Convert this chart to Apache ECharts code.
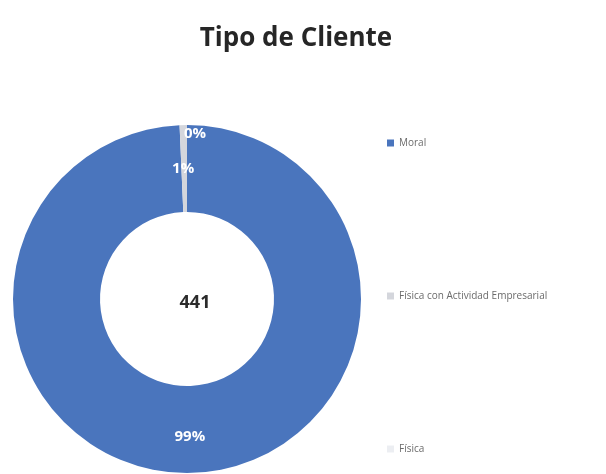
<!DOCTYPE html>
<html>
<head>
<meta charset="utf-8">
<script src="https://cdn.jsdelivr.net/npm/echarts@6/dist/echarts.min.js"></script>
<style>
  html, body { margin: 0; padding: 0; background: #fff; }
  #chart { width: 606px; height: 474px; }
</style>
</head>
<body>
<div id="chart"></div>
<script>
const categories = ['Moral', 'Física con Actividad Empresarial', 'Física']
const values = [438, 3, 0]
const percentLabels = ['99%', '1%', '0%']
const colors = ['#4a75bd', '#d4d6dc', '#eceef2']

// label offsets from the mid-radius position, to match the original placement
const labelOffsets = [[0, 4], [-1, 3], [8, -32]]

const total = values.reduce((a, b) => a + b, 0)

const chart = echarts.init(document.getElementById('chart'))

const option = {
  backgroundColor: '#fff',
  animation: false,
  title: [
    {
      text: 'Tipo de Cliente',
      left: 291,
      top: 21,
      textAlign: 'center',
      textStyle: { fontFamily: 'Open Sans', fontSize: 26, fontWeight: 'bold', color: '#262626' }
    },
    {
      text: String(total),
      left: 190,
      top: 289,
      textAlign: 'center',
      textStyle: { fontFamily: 'Open Sans', fontSize: 18, fontWeight: 'bold', color: '#2b2b2b' }
    }
  ],
  legend: {
    orient: 'vertical',
    left: 382,
    top: 133,
    itemWidth: 7,
    itemHeight: 7,
    itemGap: 143,
    icon: 'rect',
    textStyle: { fontFamily: 'Open Sans', fontSize: 10, color: '#6b6b6b' },
    data: categories
  },
  series: [
    {
      type: 'pie',
      center: [187, 299],
      radius: [87, 174],
      startAngle: 90,
      clockwise: true,
      avoidLabelOverlap: false,
      label: {
        show: true,
        position: 'inside',
        fontFamily: 'Open Sans',
        fontSize: 15,
        fontWeight: 'bold',
        color: '#fff'
      },
      labelLine: { show: false },
      emphasis: { disabled: true },
      itemStyle: { borderWidth: 0 },
      data: categories.map((name, i) => ({
        name,
        value: values[i],
        itemStyle: { color: colors[i] },
        label: { formatter: percentLabels[i], offset: labelOffsets[i] }
      }))
    }
  ]
}

chart.setOption(option)
</script>
</body>
</html>
